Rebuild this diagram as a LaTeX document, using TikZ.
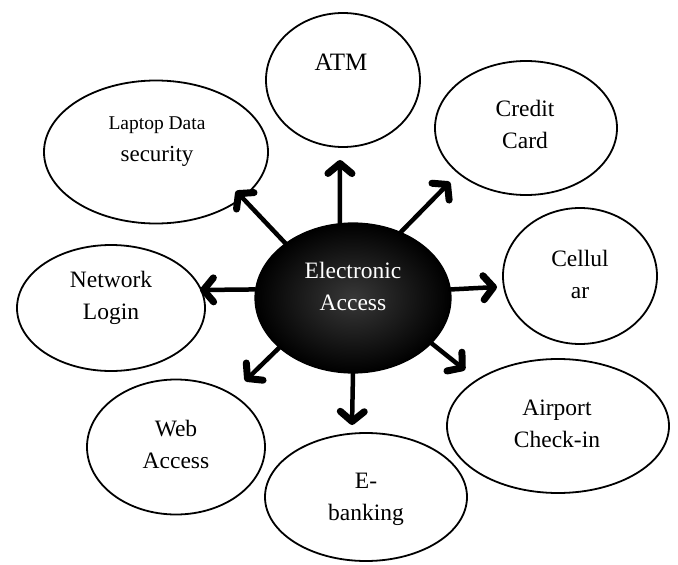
\documentclass[tikz,border=0pt]{standalone}
\usepackage{fontspec}
\setmainfont{Liberation Serif}
\usetikzlibrary{shapes.geometric,arrows.meta}
\begin{document}
\begin{tikzpicture}[x=1pt,y=-1pt,
  bub/.style={ellipse, draw=black, line width=1.8pt, inner sep=0pt, fill=white},
  lbl/.style={align=center, font=\fontsize{23.5}{32}\selectfont, inner sep=0pt},
  arr/.style={line width=4.5pt, line cap=round, -{Straight Barb[length=10pt,width=24pt,line width=7pt,round]}}]
\useasboundingbox (0,0) rectangle (678,565);
% outer bubbles
\node[bub, minimum width=154pt, minimum height=134pt] (atm) at (343,80) {};
\node[bub, minimum width=224pt, minimum height=143pt] (laptop) at (156,152) {};
\node[bub, minimum width=182pt, minimum height=134pt] (credit) at (526,128) {};
\node[bub, minimum width=154pt, minimum height=136pt] (cell) at (580,276) {};
\node[bub, minimum width=188pt, minimum height=126pt] (net) at (111,308) {};
\node[bub, minimum width=178pt, minimum height=135pt] (web) at (176,447) {};
\node[bub, minimum width=202pt, minimum height=128pt] (ebank) at (366,497) {};
\node[bub, minimum width=222pt, minimum height=134pt] (air) at (558,426) {};
% centre
\node[ellipse, draw=black, line width=1.2pt, inner color=black!78, outer color=black,
      minimum width=196pt, minimum height=150pt, inner sep=0pt] (c) at (353,298) {};
% labels
\node[lbl, font=\fontsize{25}{32}\selectfont] (tatm) at (341,62) {ATM};
\node[lbl, font=\fontsize{19.5}{32}\selectfont] (tlaptop) at (157,142) {Laptop Data\\{\fontsize{23}{23}\selectfont security}};
\node[lbl] (tcredit) at (525,124) {Credit\\Card};
\node[lbl] (tcell) at (580,274) {Cellul\\ar};
\node[lbl] (tnet) at (111,298) {Network\\Login};
\node[lbl] (tweb) at (176,444) {Web\\Access};
\node[lbl] (tebank) at (366,499) {E-\\banking};
\node[lbl] (tair) at (557,424) {Airport\\Check-in};
\node[lbl, text=white] (tc) at (353,286) {Electronic\\Access};
% arrow tips
\coordinate (patm) at (340,160);
\coordinate (pcredit) at (450,182);
\coordinate (pcell) at (497,287);
\coordinate (pair) at (465,370);
\coordinate (pebank) at (352,425);
\coordinate (pweb) at (245,381);
\coordinate (pnet) at (200,290);
\coordinate (plaptop) at (236,191);
\draw[arr] (c.100) -- (patm);
\draw[arr] (c.54) -- (pcredit);
\draw[arr] (c.5) -- (pcell);
\draw[arr] (c.-30) -- (pair);
\draw[arr] (c.270) -- (pebank);
\draw[arr] (c.214) -- (pweb);
\draw[arr] (c.175) -- (pnet);
\draw[arr] (c.141) -- (plaptop);
\end{tikzpicture}
\end{document}
